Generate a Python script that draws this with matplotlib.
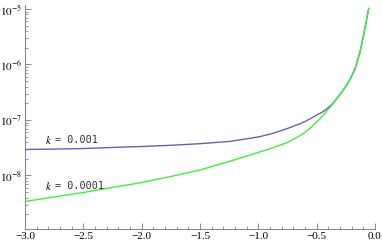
import math
import matplotlib
matplotlib.use("Agg")
import matplotlib.pyplot as plt
from matplotlib.ticker import FixedLocator, LogLocator, NullFormatter, FuncFormatter

# data
x_green = [-3.0, -2.75, -2.5, -2.25, -2.0, -1.75, -1.5, -1.25, -1.0, -0.88,
           -0.75, -0.67, -0.6, -0.55, -0.5, -0.45, -0.41, -0.37, -0.33,
           -0.29, -0.25, -0.21, -0.17, -0.13, -0.1, -0.077, -0.054]
y_green = [3.40e-9, 4.10e-9, 4.94e-9, 6.08e-9, 7.48e-9, 9.59e-9, 1.256e-8,
           1.79e-8, 2.60e-8, 3.13e-8, 3.93e-8, 4.84e-8, 5.95e-8, 7.32e-8,
           9.20e-8, 1.18e-7, 1.48e-7, 1.86e-7, 2.39e-7, 3.07e-7, 4.01e-7,
           5.59e-7, 8.47e-7, 1.64e-6, 3.20e-6, 5.71e-6, 1.02e-5]
x_blue = [-3.0, -2.75, -2.5, -2.25, -2.0, -1.75, -1.5, -1.25, -1.0, -0.88,
          -0.75, -0.67, -0.6, -0.55, -0.5, -0.45, -0.41, -0.37, -0.33,
          -0.29, -0.25, -0.21, -0.17, -0.13, -0.1, -0.077, -0.054]
y_blue = [2.94e-8, 2.99e-8, 3.06e-8, 3.20e-8, 3.33e-8, 3.50e-8, 3.74e-8,
          4.10e-8, 4.94e-8, 5.71e-8, 7.03e-8, 8.13e-8, 9.40e-8, 1.065e-7,
          1.23e-7, 1.39e-7, 1.61e-7, 1.90e-7, 2.39e-7, 3.07e-7, 4.01e-7,
          5.59e-7, 8.47e-7, 1.64e-6, 3.20e-6, 5.71e-6, 1.02e-5]
labels = ["0.001", "0.0001"]
xticks = [-3.0, -2.5, -2.0, -1.5, -1.0, -0.5, 0.0]
yticks = [1e-8, 1e-7, 1e-6, 1e-5]

plt.rcParams['mathtext.fontset'] = 'stix'
plt.rcParams['font.family'] = 'Liberation Serif'

fig = plt.figure(figsize=(3.82, 2.47), dpi=100)
ax = fig.add_axes([25/382, 18/247, 350/382, 224/247])
ax.set_yscale('log')
ax.plot(x_blue, y_blue, color='#6464ac', lw=1.0, zorder=3, solid_joinstyle='round')
ax.plot(x_green, y_green, color='#3cf03c', lw=1.0, zorder=3, solid_joinstyle='round')
ax.set_xlim(-3.0, 0.0)
ax.set_ylim(1.086e-9, 1.18e-5)

for sp in ['top', 'right']:
    ax.spines[sp].set_visible(False)
for sp in ['left', 'bottom']:
    ax.spines[sp].set_color('#8a8a8a')
    ax.spines[sp].set_linewidth(0.8)

ax.xaxis.set_major_locator(FixedLocator(xticks))
ax.xaxis.set_minor_locator(FixedLocator([-3.0 + 0.1 * i for i in range(31)]))
ax.xaxis.set_major_formatter(FuncFormatter(
    lambda v, p: ('%.1f' % v).replace('-', '\u2212') if abs(v) > 1e-9 else '0.0'))
ax.yaxis.set_major_locator(FixedLocator(yticks))
ax.yaxis.set_minor_locator(LogLocator(base=10, subs=range(2, 10)))
ax.yaxis.set_minor_formatter(NullFormatter())
ax.yaxis.set_major_formatter(FuncFormatter(lambda v, p: r'$10^{%d}$' % round(math.log10(v))))

ax.tick_params(axis='both', which='major', direction='in', length=4, width=0.7,
               color='#8a8a8a', labelsize=8, pad=2)
ax.tick_params(axis='both', which='minor', direction='in', length=2, width=0.6,
               color='#8a8a8a')

ax.text(-2.83, 4.3e-8, r'$k$', fontsize=8, ha='left', va='center')
ax.text(-2.74, 4.3e-8, '= ' + labels[0], fontsize=7.3, family='DejaVu Sans Mono',
        ha='left', va='center', color='#333333')
ax.text(-2.83, 6.5e-9, r'$k$', fontsize=8, ha='left', va='center')
ax.text(-2.74, 6.5e-9, '= ' + labels[1], fontsize=7.3, family='DejaVu Sans Mono',
        ha='left', va='center', color='#333333')

fig.savefig('out.png', dpi=100)
